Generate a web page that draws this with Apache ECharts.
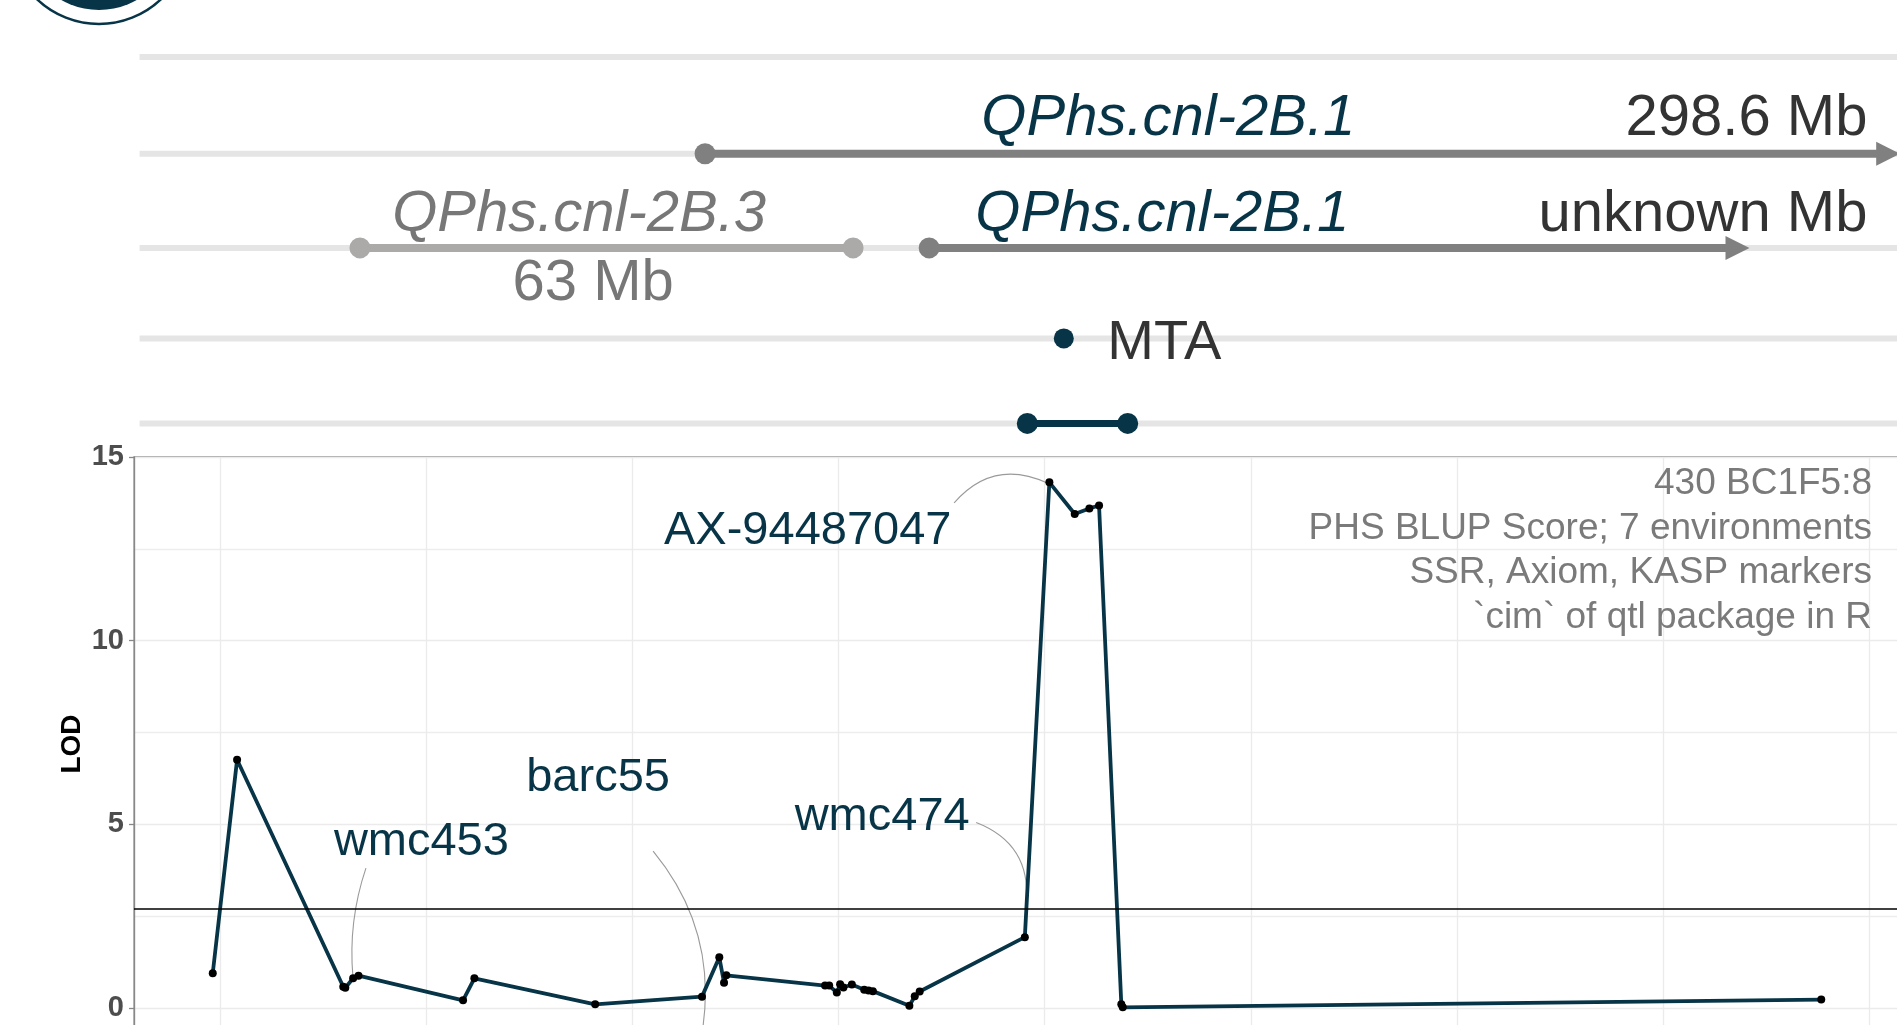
<!DOCTYPE html>
<html>
<head>
<meta charset="utf-8">
<title>QPhs.cnl-2B LOD profile</title>
<script src="https://cdn.jsdelivr.net/npm/echarts@6/dist/echarts.min.js"></script>
<style>
html, body { margin: 0; padding: 0; background: #fff; }
#chart { width: 1897px; height: 1025px; }
</style>
</head>
<body>
<div id="chart"></div>
<script>
// LOD profile along 2B (position, LOD)
const positions = [9.65, 10.83, 15.98, 16.08, 16.46, 16.72, 21.79, 22.34, 28.2, 33.38, 34.22, 34.45, 34.56,
    39.35, 39.55, 39.92, 40.08, 40.24, 40.65, 41.25, 41.46, 41.67, 43.44, 43.7, 43.94, 49.04,
    50.23, 51.46, 52.17, 52.64, 53.72, 53.79, 87.67]
const lod = [0.95, 6.76, 0.58, 0.55, 0.81, 0.88, 0.21, 0.81, 0.10, 0.31, 1.38, 0.69, 0.89,
    0.61, 0.61, 0.42, 0.65, 0.56, 0.64, 0.50, 0.48, 0.46, 0.06, 0.32, 0.45, 1.93,
    14.31, 13.45, 13.60, 13.68, 0.10, 0.02, 0.23]
const threshold = 2.7
const lodTicks = [0, 5, 10, 15]

// labelled markers
const markerNames = ['AX-94487047', 'wmc453', 'barc55', 'wmc474']

// QTL intervals shown above the profile
const intervalRow = [1, 2, 2, 3, 4]
const intervalStart = [33.53, 16.79, 44.40, 50.93, 49.16]
const intervalEnd = [91.50, 40.71, 84.19, 50.93, 54.03]
const intervalShape = ['arrow', 'segment', 'arrow', 'point', 'segment']

const trackText = ['QPhs.cnl-2B.1', '298.6 Mb', 'QPhs.cnl-2B.3', '63 Mb', 'QPhs.cnl-2B.1', 'unknown Mb', 'MTA']
const trackTextRow = [1, 1, 2, 2, 2, 2, 3]
const trackTextX = [56.0, 89.91, 27.42, 28.10, 55.71, 89.91, 53.04]

const captionLines = ['430 BC1F5:8', 'PHS BLUP Score; 7 environments', 'SSR, Axiom, KASP markers', '`cim` of qtl package in R']

// ---- layout / styles ----
const TEAL = '#073547'
const FONT = '"Liberation Sans", Arial, sans-serif'
const X_MIN = 5.83
const X_MAX = 92.8
const TRACK_START = 6.1
const trackLevels = [0, 0.264, 0.521, 0.768, 1]

// label centres and leader lines, in data units
const labelAt = [[38.51, 13.09], [19.77, 4.60], [28.34, 6.35], [42.12, 5.30]]
const leaderFrom = [[45.61, 13.75], [17.08, 3.81], [31.01, 4.27], [46.68, 5.05]]
const leaderTo = [[50.13, 14.29], [16.45, 0.84], [33.39, -0.65], [49.11, 2.86]]
const leaderBend = [0.25, -0.07, 0.15, 0.25]

const intervalColor = ['#808080', '#aca9a9', '#808080', TEAL, TEAL]
const intervalWidth = [8, 8, 8, 0, 7]
// offset of label centre from the track, align, italic, colour
const trackTextStyle = [
    { dy: -35, align: 'center', italic: true, color: TEAL },
    { dy: -35, align: 'right', italic: false, color: '#333333' },
    { dy: -33, align: 'center', italic: true, color: '#777777' },
    { dy: 36, align: 'center', italic: false, color: '#777777' },
    { dy: -33, align: 'center', italic: true, color: TEAL },
    { dy: -33, align: 'right', italic: false, color: '#333333' },
    { dy: 5.5, align: 'left', italic: false, color: '#333333', size: 56 }
]

function renderLeader(params, api) {
    const s = api.coord([api.value(0), api.value(1)])
    const e = api.coord([api.value(2), api.value(3)])
    const bend = api.value(4)
    const dx = e[0] - s[0]
    const dy = e[1] - s[1]
    const ox = bend * dy
    const oy = -bend * dx
    return {
        type: 'bezierCurve',
        shape: {
            x1: s[0], y1: s[1], x2: e[0], y2: e[1],
            cpx1: s[0] + dx / 3 + ox, cpy1: s[1] + dy / 3 + oy,
            cpx2: s[0] + 2 * dx / 3 + ox, cpy2: s[1] + 2 * dy / 3 + oy
        },
        style: { stroke: '#9a9a9a', lineWidth: 1.1, fill: null }
    }
}

function renderMarkerLabel(params, api) {
    const p = api.coord([api.value(0), api.value(1)])
    return {
        type: 'text',
        style: {
            x: p[0], y: p[1] + 3.5, text: markerNames[params.dataIndex],
            fill: TEAL, fontSize: 47, fontFamily: FONT,
            align: 'center', verticalAlign: 'middle'
        }
    }
}

function renderTrack(params, api) {
    const a = api.coord([TRACK_START, api.value(0)])
    const b = api.coord([X_MAX, api.value(0)])
    return {
        type: 'line',
        shape: { x1: a[0], y1: a[1], x2: b[0], y2: b[1] },
        style: { stroke: '#e5e5e5', lineWidth: 6 }
    }
}

function renderInterval(params, api) {
    const i = params.dataIndex
    const y = api.value(3)
    const p0 = api.coord([api.value(1), y])
    const p1 = api.coord([api.value(2), y])
    const color = intervalColor[i]
    const kids = []
    const dot = (x, r) => ({ type: 'circle', shape: { cx: x, cy: p0[1], r: r }, style: { fill: color } })
    if (intervalShape[i] === 'arrow') {
        kids.push({ type: 'line', shape: { x1: p0[0], y1: p0[1], x2: p1[0] - 22, y2: p0[1] }, style: { stroke: color, lineWidth: intervalWidth[i] } })
        kids.push({ type: 'polygon', shape: { points: [[p1[0] - 24, p0[1] - 12], [p1[0], p0[1]], [p1[0] - 24, p0[1] + 12]] }, style: { fill: color } })
        kids.push(dot(p0[0], 10.5))
    } else if (intervalShape[i] === 'segment') {
        kids.push({ type: 'line', shape: { x1: p0[0], y1: p0[1], x2: p1[0], y2: p0[1] }, style: { stroke: color, lineWidth: intervalWidth[i] } })
        kids.push(dot(p0[0], 10.5))
        kids.push(dot(p1[0], 10.5))
    } else {
        kids.push(dot(p0[0], 10))
    }
    return { type: 'group', children: kids }
}

function renderTrackText(params, api) {
    const i = params.dataIndex
    const st = trackTextStyle[i]
    const p = api.coord([api.value(0), api.value(1)])
    return {
        type: 'text',
        style: {
            x: p[0], y: p[1] + st.dy, text: trackText[i],
            fill: st.color, fontSize: st.size || 58, fontFamily: FONT,
            fontStyle: st.italic ? 'italic' : 'normal',
            align: st.align, verticalAlign: 'middle'
        }
    }
}

const chart = echarts.init(document.getElementById('chart'))

const option = {
    animation: false,
    backgroundColor: '#ffffff',
    grid: [
        { left: 134, right: -30, top: 457, bottom: -166.7, show: true, borderColor: '#888888', borderWidth: 1.3, outerBoundsMode: 'none' },
        { left: 134, right: -30, top: 57, bottom: 1025 - 423.4, outerBoundsMode: 'none' }
    ],
    xAxis: [
        {
            type: 'value', gridIndex: 0, min: X_MIN, max: X_MAX, splitNumber: 9,
            axisLine: { show: false }, axisTick: { show: false }, axisLabel: { show: false },
            splitLine: { show: true, lineStyle: { color: '#ebebeb', width: 1.3 } }
        },
        { type: 'value', gridIndex: 1, min: X_MIN, max: X_MAX, show: false }
    ],
    yAxis: [
        {
            type: 'value', gridIndex: 0, min: -5, max: 15, interval: 5,
            axisLine: { show: true, onZero: false, lineStyle: { color: '#888888', width: 1.3 } },
            axisTick: { show: true, length: 5, lineStyle: { color: '#888888', width: 1.3 } },
            axisLabel: {
                color: '#4d4d4d', fontSize: 29, fontWeight: 'bold', fontFamily: FONT, margin: 10,
                formatter: v => (lodTicks.includes(v) ? String(v) : '')
            },
            splitLine: { show: true, lineStyle: { color: '#ebebeb', width: 1.3 } },
            minorTick: { show: false, splitNumber: 2 },
            minorSplitLine: { show: true, lineStyle: { color: '#ededed', width: 1.3 } }
        },
        { type: 'value', gridIndex: 1, min: 0, max: 1, inverse: true, show: false }
    ],
    series: [
        {
            type: 'custom', xAxisIndex: 1, yAxisIndex: 1, z: 1,
            renderItem: renderTrack,
            encode: { x: 1, y: 0 },
            data: trackLevels.map(v => [v, TRACK_START])
        },
        {
            type: 'custom', xAxisIndex: 1, yAxisIndex: 1, z: 2,
            renderItem: renderInterval,
            encode: { x: [1, 2], y: 3 },
            data: intervalRow.map((r, i) => [r, intervalStart[i], intervalEnd[i], trackLevels[r]])
        },
        {
            type: 'custom', xAxisIndex: 1, yAxisIndex: 1, z: 3,
            renderItem: renderTrackText,
            encode: { x: 0, y: 1 },
            data: trackTextRow.map((r, i) => [trackTextX[i], trackLevels[r]])
        },
        {
            type: 'custom', xAxisIndex: 0, yAxisIndex: 0, z: 2,
            renderItem: renderLeader,
            encode: { x: [0, 2], y: [1, 3] },
            data: markerNames.map((n, i) => [leaderFrom[i][0], leaderFrom[i][1], leaderTo[i][0], leaderTo[i][1], leaderBend[i]])
        },
        {
            type: 'line', xAxisIndex: 0, yAxisIndex: 0, z: 3,
            data: positions.map((x, i) => [x, lod[i]]),
            symbol: 'circle', symbolSize: 8, showSymbol: true, showAllSymbol: true,
            itemStyle: { color: '#000000' },
            lineStyle: { color: TEAL, width: 3.8 },
            emphasis: { disabled: true },
            markLine: {
                silent: true, symbol: 'none', label: { show: false },
                lineStyle: { color: '#000000', width: 1.7, type: 'solid' },
                data: [{ yAxis: threshold }]
            }
        },
        {
            type: 'custom', xAxisIndex: 0, yAxisIndex: 0, z: 4,
            renderItem: renderMarkerLabel,
            encode: { x: 0, y: 1 },
            data: labelAt
        }
    ],
    graphic: [
        { type: 'circle', shape: { cx: 99, cy: -66, r: 90 }, style: { fill: '#ffffff', stroke: TEAL, lineWidth: 2.5 } },
        { type: 'circle', shape: { cx: 99, cy: -66, r: 76 }, style: { fill: TEAL } },
        {
            type: 'text', x: 72.6, y: 744, rotation: Math.PI / 2,
            style: { text: 'LOD', fill: '#000000', fontSize: 28, fontWeight: 'bold', fontFamily: FONT, align: 'center', verticalAlign: 'middle' }
        }
    ].concat(captionLines.map((t, i) => ({
        type: 'text', x: 1872, y: 483.5 + i * 44.8, z: 10,
        style: { text: t, fill: '#7a7a7a', fontSize: 37, fontFamily: FONT, align: 'right', verticalAlign: 'middle' }
    })))
}

chart.setOption(option)
</script>
</body>
</html>
